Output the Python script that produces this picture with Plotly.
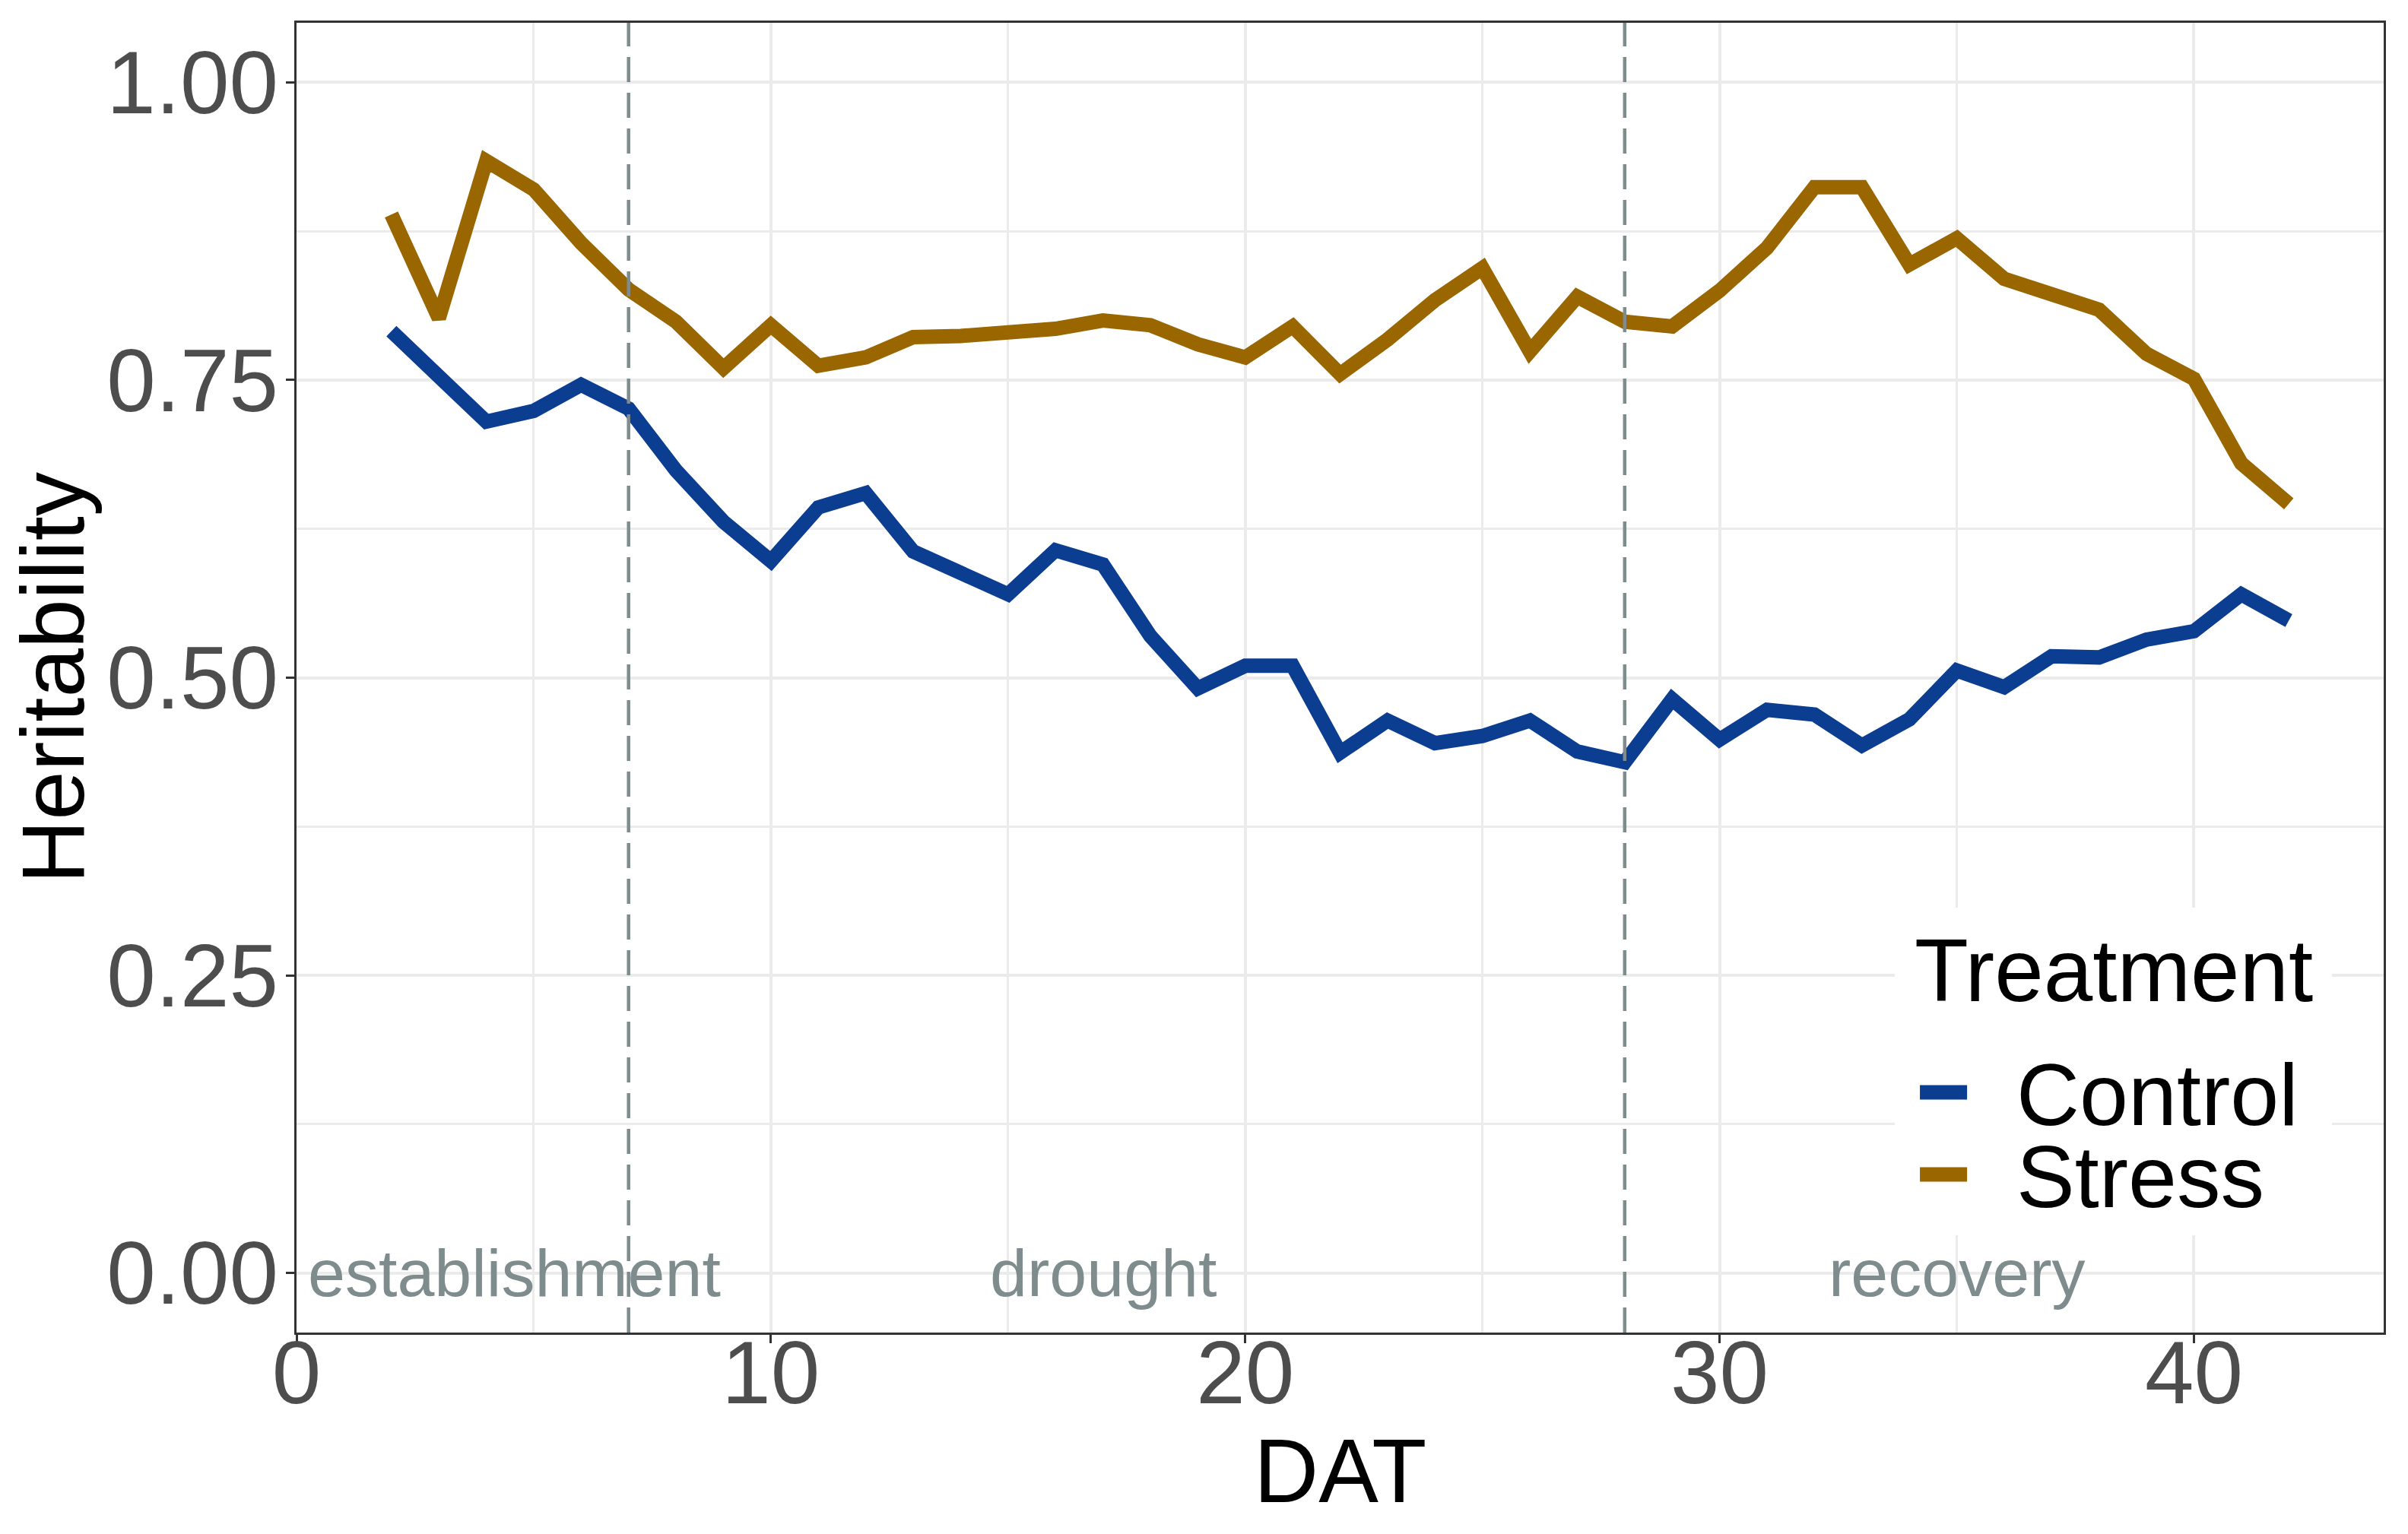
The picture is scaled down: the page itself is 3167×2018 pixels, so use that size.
import plotly.graph_objects as go

dat = list(range(2, 43))
control = [0.791, 0.751, 0.715, 0.724, 0.746, 0.726, 0.674, 0.631, 0.598, 0.643,
           0.655, 0.606, 0.588, 0.570, 0.607, 0.595, 0.535, 0.491, 0.510, 0.510,
           0.437, 0.464, 0.445, 0.451, 0.464, 0.438, 0.429, 0.482, 0.448, 0.473,
           0.469, 0.443, 0.465, 0.506, 0.492, 0.518, 0.517, 0.532, 0.539, 0.570,
           0.548]
stress = [0.889, 0.802, 0.934, 0.910, 0.865, 0.826, 0.799, 0.760, 0.796, 0.762,
          0.769, 0.786, 0.787, 0.789, 0.793, 0.800, 0.796, 0.780, 0.769, 0.795,
          0.755, 0.784, 0.817, 0.844, 0.774, 0.820, 0.799, 0.795, 0.825, 0.861,
          0.912, 0.912, 0.847, 0.869, 0.835, 0.822, 0.809, 0.772, 0.751, 0.680,
          0.646]
series_names = ["Control", "Stress"]
phase_breaks = [7, 28]
phase_labels = ["establishment", "drought", "recovery"]
phase_label_x = [4.6, 17.0, 35.0]
x_ticks = [0, 10, 20, 30, 40]
y_ticks = [0, 0.25, 0.5, 0.75, 1.0]
y_tick_labels = ["0.00", "0.25", "0.50", "0.75", "1.00"]

C_CONTROL = "#0B3D91"
C_STRESS = "#996600"
colors = [C_CONTROL, C_STRESS]
C_GREY = "#7F8C8D"
FONT = "Liberation Sans, Arial, sans-serif"
LW = 19

fig = go.Figure()
for name, vals, col in zip(series_names, [control, stress], colors):
    fig.add_trace(go.Scatter(x=dat, y=vals, mode="lines", name=name,
                             line=dict(color=col, width=LW), showlegend=False))

for b in phase_breaks:
    fig.add_vline(x=b, line=dict(color=C_GREY, width=4.5, dash="33px,14px"), layer="above")

for lab, xx in zip(phase_labels, phase_label_x):
    fig.add_annotation(x=xx, y=0, text=lab, showarrow=False, xanchor="center",
                       yanchor="middle", font=dict(family=FONT, size=88, color=C_GREY))

axis_common = dict(
    showline=True, linecolor="#333333", linewidth=2.5, mirror=True,
    ticks="outside", ticklen=11, tickwidth=2.5, tickcolor="#333333",
    showgrid=True, gridcolor="#EBEBEB", gridwidth=4.3, zeroline=False,
    tickfont=dict(family=FONT, size=116, color="#4D4D4D"),
    automargin=False,
)

fig.update_xaxes(range=[0, 44], tickvals=x_ticks, ticklabelstandoff=-60,
                 minor=dict(tickvals=[5, 15, 25, 35], showgrid=True,
                            gridcolor="#EBEBEB", gridwidth=2.6, ticks=""),
                 **axis_common)
fig.update_yaxes(range=[-0.05, 1.05], tickvals=y_ticks, ticktext=y_tick_labels,
                 ticklabelstandoff=-13,
                 minor=dict(tickvals=[0.125, 0.375, 0.625, 0.875], showgrid=True,
                            gridcolor="#EBEBEB", gridwidth=2.6, ticks=""),
                 **axis_common)

# axis titles
fig.add_annotation(xref="paper", yref="paper", x=0.5, y=-0.1056, text="DAT",
                   showarrow=False, xanchor="center", yanchor="middle",
                   font=dict(family=FONT, size=118, color="black"))
fig.add_annotation(xref="paper", yref="paper", x=-0.1166, y=0.5, text="Heritability",
                   showarrow=False, xanchor="center", yanchor="middle", textangle=-90,
                   font=dict(family=FONT, size=116, color="black"))

# legend (inside panel, bottom right)
fig.add_shape(type="rect", xref="paper", yref="paper", x0=0.7658, x1=0.9752,
              y0=0.0743, y1=0.3244, fillcolor="white", line=dict(width=0), layer="above")
fig.add_annotation(xref="paper", yref="paper", x=0.7745, y=0.2763, text="Treatment",
                   showarrow=False, xanchor="left", yanchor="middle",
                   font=dict(family=FONT, size=116, color="black"))
key_y = [0.1834, 0.1207]
lab_y = [0.1817, 0.1190]
for name, col, ky, ly in zip(series_names, colors, key_y, lab_y):
    fig.add_shape(type="line", xref="paper", yref="paper", x0=0.7778, x1=0.8004,
                  y0=ky, y1=ky, line=dict(color=col, width=LW), layer="above")
    fig.add_annotation(xref="paper", yref="paper", x=0.8233, y=ly, text=name,
                       showarrow=False, xanchor="left", yanchor="middle",
                       font=dict(family=FONT, size=115, color="black"))

# page body has an 8px default margin; compensate so the panel lands where the reference has it
fig.update_layout(
    width=3159, height=2010,
    margin=dict(l=382, r=32, t=22, b=265),
    plot_bgcolor="white", paper_bgcolor="white",
    font=dict(family=FONT),
    showlegend=False,
)

fig.write_html("out.html")
